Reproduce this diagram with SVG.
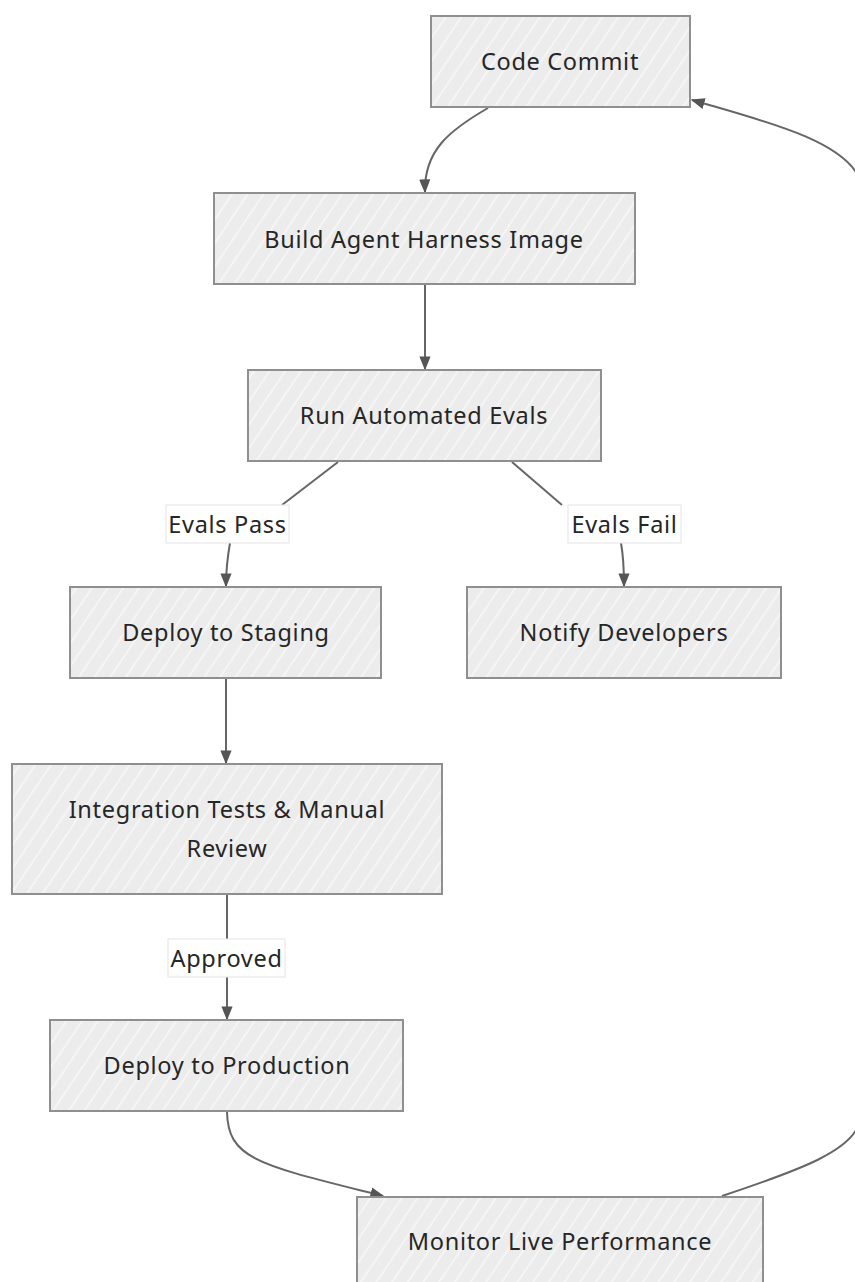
<svg xmlns="http://www.w3.org/2000/svg" width="855" height="1282" viewBox="0 0 855 1282">
  <style>
    .box { fill: url(#hatch); stroke: #8f8f8f; stroke-width: 2; }
    .label { font-family: "Noto Sans", "Open Sans", sans-serif; font-size: 23.5px; letter-spacing: 0.7px; fill: #262626; text-anchor: middle; dominant-baseline: central; }
    .edge { fill: none; stroke: #666; stroke-width: 2; }
    .elabel-bg { fill: #fff; stroke: #e4e4e4; stroke-width: 1; }
  </style>
  <defs>
    <pattern id="hatch" patternUnits="userSpaceOnUse" width="13" height="13" patternTransform="rotate(34)">
      <rect width="13" height="13" fill="#ececec"/>
      <line x1="2" y1="0" x2="2" y2="13" stroke="#fafafa" stroke-width="1.3"/>
    </pattern>
    <marker id="arrowL" viewBox="0 0 10 10" refX="9" refY="5" markerWidth="14" markerHeight="14" orient="auto" markerUnits="userSpaceOnUse">
      <path d="M0,1 L10,5 L0,9 z" fill="#555"/>
    </marker>
  </defs>

  <rect width="855" height="1282" fill="#fff"/>

  <!-- connectors -->
  <g id="connectors">
    <path class="edge" marker-end="url(#arrowL)" d="M488,108 C450,130 424,150 425,192"/>
    <path class="edge" marker-end="url(#arrowL)" d="M425,285 L425,369"/>
    <path class="edge" d="M338,462 L282,505"/>
    <path class="edge" marker-end="url(#arrowL)" d="M230,543 C227,560 226,570 226,586"/>
    <path class="edge" d="M512,462 L562,505"/>
    <path class="edge" marker-end="url(#arrowL)" d="M621,543 C624,560 624,570 624,586"/>
    <path class="edge" marker-end="url(#arrowL)" d="M226,679 L226,763"/>
    <path class="edge" d="M227,895 L227,939"/>
    <path class="edge" marker-end="url(#arrowL)" d="M227,977 L227,1019"/>
    <path class="edge" marker-end="url(#arrowL)" d="M227,1112 C228,1160 260,1165 383,1196"/>
    <path class="edge" marker-end="url(#arrowL)" d="M722,1196 C800,1170 855,1150 860,1120 L860,180 C845,140 760,120 692,100"/>
    <g>
      <rect class="elabel-bg" x="166" y="505" width="123" height="38"/>
      <text class="label" x="227.5" y="524">Evals Pass</text>
    </g>
    <g>
      <rect class="elabel-bg" x="568" y="505" width="113" height="38"/>
      <text class="label" x="624.5" y="524">Evals Fail</text>
    </g>
    <g>
      <rect class="elabel-bg" x="168" y="939" width="117" height="38"/>
      <text class="label" x="226.5" y="958">Approved</text>
    </g>
  </g>

  <g id="code-commit">
    <rect class="box" x="431" y="16" width="259" height="91"/>
    <text class="label" x="560" y="61">Code Commit</text>
  </g>
  <g id="build-image">
    <rect class="box" x="214" y="193" width="421" height="91"/>
    <text class="label" x="424" y="239">Build Agent Harness Image</text>
  </g>
  <g id="run-evals">
    <rect class="box" x="248" y="370" width="353" height="91"/>
    <text class="label" x="424" y="415">Run Automated Evals</text>
  </g>
  <g id="deploy-staging">
    <rect class="box" x="70" y="587" width="311" height="91"/>
    <text class="label" x="226" y="632">Deploy to Staging</text>
  </g>
  <g id="notify-devs">
    <rect class="box" x="467" y="587" width="314" height="91"/>
    <text class="label" x="624" y="632">Notify Developers</text>
  </g>
  <g id="integration-tests">
    <rect class="box" x="12" y="764" width="430" height="130"/>
    <text class="label" x="227" y="809">Integration Tests &amp; Manual</text>
    <text class="label" x="227" y="848">Review</text>
  </g>
  <g id="deploy-production">
    <rect class="box" x="50" y="1020" width="353" height="91"/>
    <text class="label" x="227" y="1065">Deploy to Production</text>
  </g>
  <g id="monitor">
    <rect class="box" x="357" y="1197" width="406" height="91"/>
    <text class="label" x="560" y="1241">Monitor Live Performance</text>
  </g>
</svg>
